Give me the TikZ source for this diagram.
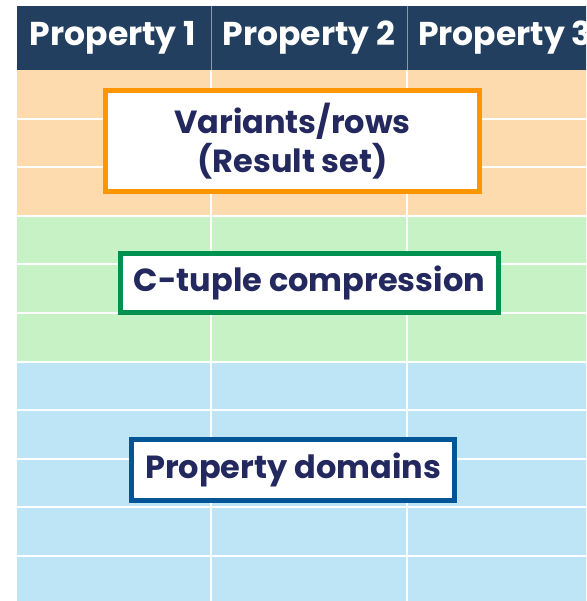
\documentclass[tikz,border=0pt]{standalone}
\usepackage{fontspec}
\setmainfont{Poppins}

\definecolor{headnavy}{HTML}{223F5F}
\definecolor{headrule}{HTML}{8A9BB0}
\definecolor{inknavy}{HTML}{23295E}
\definecolor{bandorange}{HTML}{FDDBAE}
\definecolor{bandgreen}{HTML}{C6F2C6}
\definecolor{bandblue}{HTML}{BEE5F6}
\definecolor{edgeorange}{HTML}{FF9500}
\definecolor{edgegreen}{HTML}{009150}
\definecolor{edgeblue}{HTML}{005596}

\tikzset{
    % Header labels - white on navy
    head label/.style={font=\fontsize{33}{36}\selectfont\bfseries, text=white},
    head rule/.style={headrule, line width=1pt},
    % Row and column separators
    grid line/.style={white, line width=2pt},
    % Boxed captions over the bands
    band box/.style={draw, line width=5pt, fill=white, text=inknavy, align=center,
        inner sep=0pt, font=\fontsize{32}{39}\selectfont\bfseries},
}

\begin{document}
\begin{tikzpicture}[x=1pt, y=-1pt]
    \useasboundingbox (0,0) rectangle (586,601);
    \clip (0,0) rectangle (586,601);

    % Header bar
    \fill[headnavy] (17,6) rectangle (600,70);
    \foreach \x in {211,407}
        \draw[head rule] (\x,6) -- (\x,70);
    \node[head label] (prop1) at (113,38) {Property 1};
    \node[head label] (prop2) at (309,38) {Property 2};
    \node[head label] (prop3) at (505,38) {Property 3};

    % Colour bands
    \fill[bandorange] (17,70) rectangle (600,215.8);
    \fill[bandgreen] (17,215.8) rectangle (600,361.6);
    \fill[bandblue] (17,361.6) rectangle (600,610);

    % Grid
    \foreach \k in {1,...,10}
        \draw[grid line] (17,{70+48.6*\k}) -- (600,{70+48.6*\k});
    \foreach \x in {211,407}
        \draw[grid line] (\x,70) -- (\x,610);

    % Captions
    \node[band box, draw=edgeorange, minimum width=374pt, minimum height=101pt]
        (variants) at (292.5,141) {Variants/rows\\(Result set)};
    \node[band box, draw=edgegreen, minimum width=378pt, minimum height=59pt]
        (ctuple) at (309.5,283) {C-tuple compression};
    \node[band box, draw=edgeblue, minimum width=323pt, minimum height=61pt]
        (domains) at (293,470) {Property domains};
\end{tikzpicture}
\end{document}
